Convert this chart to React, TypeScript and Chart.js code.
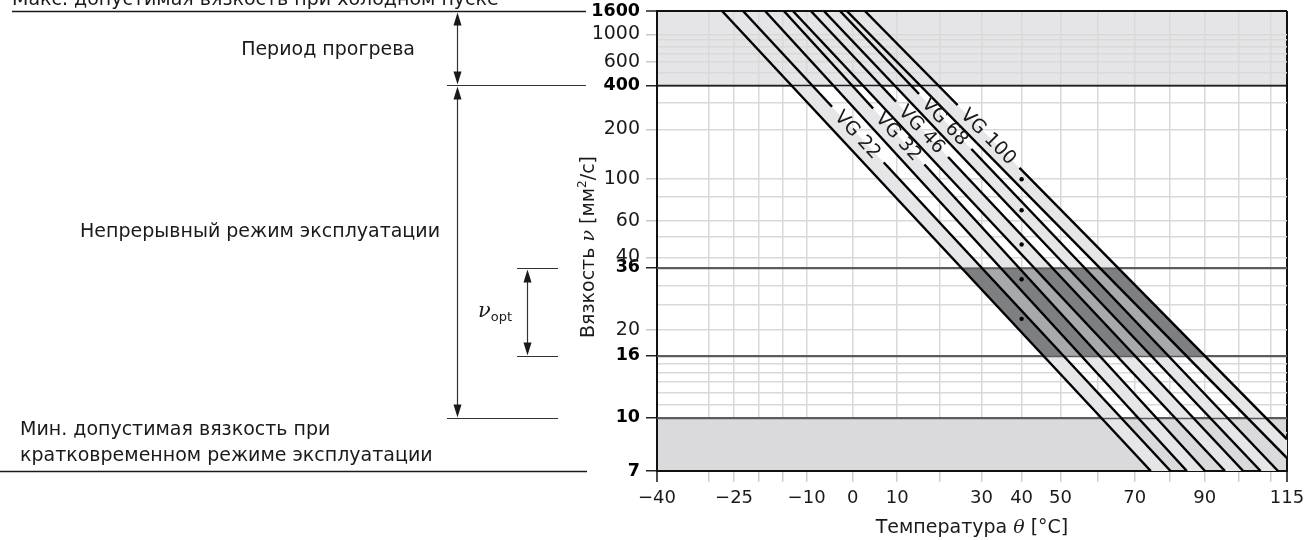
import React, { useEffect, useRef } from 'react';
import { Chart, Scale, registerables } from 'chart.js';

// ---------------- data ----------------
const GRADES = ['VG 22', 'VG 32', 'VG 46', 'VG 68', 'VG 100'];
const NOMINAL_T = 40; // °C
const NOMINAL_V = [22, 32, 46, 68, 100]; // mm²/s at 40 °C (dots)

// band edge lines of each grade: [temperature °C, viscosity mm²/s]
const VG22_MIN = [[-27.4, 1600], [74.5, 7]];
const VG22_MAX = [[-23.2, 1600], [80.1, 7]];
const VG32_MIN = [[-18.7, 1600], [84.8, 7]];
const VG32_MAX = [[-14.8, 1600], [90.1, 7]];
const VG46_MIN = [[-12.9, 1600], [96.0, 7]];
const VG46_MAX = [[-9.1, 1600], [101.5, 7]];
const VG68_MIN = [[-6.3, 1600], [106.8, 7]];
const VG68_MAX = [[-2.8, 1600], [112.2, 7]];
const VG100_MIN = [[-1.3, 1600], [115, 7.6]];
const VG100_MAX = [[2.7, 1600], [115, 8.6]];
// viscosity at which each grade label sits on its upper line
const LABEL_V = [185, 180, 200, 225, 180];

const X_MIN = -40;
const X_MAX = 115;
const X_GRID = [-40, -30, -25, -20, -15, -10, 0, 10, 20, 30, 40, 50, 60, 70, 80, 90, 100, 110, 115];
const X_LABELS = [-40, -25, -10, 0, 10, 30, 40, 50, 70, 90, 115];

const Y_MIN = 7;
const Y_MAX = 1600;
const Y_GRID = [7, 8, 9, 10, 11, 12, 13, 14, 15, 16, 20, 25, 30, 36, 40, 50, 60, 80, 100, 200, 300, 400, 500, 600, 700, 800, 900, 1000, 1600];
const Y_LABELS = [7, 10, 16, 20, 36, 40, 60, 100, 200, 400, 600, 1000, 1600];
const Y_BOLD = [7, 10, 16, 36, 400, 1600];

// zones
const WARMUP = [400, 1600];
const CONTINUOUS = [10, 400];
const OPTIMUM = [16, 36];
const SHORT_TERM = [7, 10];

const TXT_COLD = 'Макс. допустимая вязкость при холодном пуске';
const TXT_WARM = 'Период прогрева';
const TXT_CONT = 'Непрерывный режим эксплуатации';
const TXT_MIN1 = 'Мин. допустимая вязкость при';
const TXT_MIN2 = 'кратковременном режиме эксплуатации';

// ---------------- styles ----------------
const SANS = '"DejaVu Sans", "Liberation Sans", sans-serif';
const TEXT = '#1a1a1a';
const TOP_FILL = '#e5e5e7';
const BOTTOM_FILL = '#dadadc';
const BAND_FILL = '#e6e6e8';
const OPT_GAP = '#a8a9ad';
const OPT_BAND = '#7e7f83';
const GRID = '#d9d9d9';

// ---------------- custom scales (ASTM D341 chart) ----------------
function makeScale(scaleId: string, fwd: (v: number) => number, inv: (t: number) => number) {
  class TScale extends (Scale as any) {
    static id = scaleId;
    static defaults = {};
    determineDataLimits() {
      this.min = this.options.min;
      this.max = this.options.max;
    }
    buildTicks() {
      return [];
    }
    configure() {
      super.configure();
      this._s0 = fwd(this.min);
      this._sr = fwd(this.max) - this._s0;
    }
    getLabelForValue(v: number) {
      return String(v);
    }
    getPixelForValue(v: number) {
      return this.getPixelForDecimal((fwd(v) - this._s0) / this._sr);
    }
    getValueForPixel(p: number) {
      return inv(this.getDecimalForPixel(p) * this._sr + this._s0);
    }
  }
  return TScale;
}
const TempScale = makeScale('tempLog', (t) => Math.log10(t + 273.15), (u) => Math.pow(10, u) - 273.15);
const ViscScale = makeScale(
  'viscLogLog',
  (v) => Math.log10(Math.log10(v + 0.7)),
  (u) => Math.pow(10, Math.pow(10, u)) - 0.7
);

Chart.register(...registerables, TempScale as any, ViscScale as any);

const BANDS = [
  [VG22_MIN, VG22_MAX],
  [VG32_MIN, VG32_MAX],
  [VG46_MIN, VG46_MAX],
  [VG68_MIN, VG68_MAX],
  [VG100_MIN, VG100_MAX],
];

function px(chart: any, pts: number[][]) {
  const { x, y } = chart.scales;
  return pts.map(([t, v]) => [x.getPixelForValue(t), y.getPixelForValue(v)]);
}

function poly(ctx: CanvasRenderingContext2D, a: number[][], b: number[][]) {
  const all = a.concat(b.slice().reverse());
  ctx.beginPath();
  all.forEach(([X, Y], i) => (i ? ctx.lineTo(X, Y) : ctx.moveTo(X, Y)));
  ctx.closePath();
  ctx.fill();
}

function labelGeom(chart: any, g: number) {
  const p = px(chart, BANDS[g][1]);
  const py = chart.scales.y.getPixelForValue(LABEL_V[g]);
  const f = (py - p[0][1]) / (p[1][1] - p[0][1]);
  const pxx = p[0][0] + f * (p[1][0] - p[0][0]);
  const ang = Math.atan2(p[1][1] - p[0][1], p[1][0] - p[0][0]);
  return { x: pxx, y: py, ang };
}

const LABEL_FONT = `19px ${SANS}`;

function drawRich(ctx: CanvasRenderingContext2D, parts: [string, string, number][], x: number, y: number, align: string) {
  let w = 0;
  parts.forEach(([t, f]) => {
    ctx.font = f;
    w += ctx.measureText(t).width;
  });
  let cx = align === 'center' ? x - w / 2 : align === 'right' ? x - w : x;
  ctx.textAlign = 'left';
  ctx.textBaseline = 'alphabetic';
  parts.forEach(([t, f, dy]) => {
    ctx.font = f;
    ctx.fillText(t, cx, y + dy);
    cx += ctx.measureText(t).width;
  });
}

function arrowHead(ctx: CanvasRenderingContext2D, x: number, yTip: number, dir: number) {
  ctx.beginPath();
  ctx.moveTo(x, yTip);
  ctx.lineTo(x - 4, yTip + dir * 13);
  ctx.lineTo(x + 4, yTip + dir * 13);
  ctx.closePath();
  ctx.fill();
}

function dblArrow(ctx: CanvasRenderingContext2D, x: number, y1: number, y2: number) {
  ctx.beginPath();
  ctx.moveTo(x, y1 + 8);
  ctx.lineTo(x, y2 - 8);
  ctx.stroke();
  arrowHead(ctx, x, y1 + 1, 1);
  arrowHead(ctx, x, y2 - 1, -1);
}

function hline(ctx: CanvasRenderingContext2D, x1: number, x2: number, y: number) {
  ctx.beginPath();
  ctx.moveTo(x1, y);
  ctx.lineTo(x2, y);
  ctx.stroke();
}

// all area fills, painted after the grid and right before the first dataset
function paintFills(chart: any) {
  const { ctx, chartArea: a } = chart;
  const y = chart.scales.y;
  const y400 = y.getPixelForValue(WARMUP[0]);
  ctx.save();
  ctx.beginPath();
  ctx.rect(a.left, y400, a.right - a.left, a.bottom - y400);
  ctx.clip();
  ctx.fillStyle = BAND_FILL;
  BANDS.forEach(([lo, hi]) => poly(ctx, px(chart, lo), px(chart, hi)));
  ctx.restore();

  const yo1 = y.getPixelForValue(OPTIMUM[1]);
  const yo0 = y.getPixelForValue(OPTIMUM[0]);
  ctx.save();
  ctx.beginPath();
  ctx.rect(a.left, yo1, a.right - a.left, yo0 - yo1);
  ctx.clip();
  ctx.fillStyle = OPT_GAP;
  poly(ctx, px(chart, BANDS[0][0]), px(chart, BANDS[BANDS.length - 1][1]));
  ctx.fillStyle = OPT_BAND;
  BANDS.forEach(([lo, hi]) => poly(ctx, px(chart, lo), px(chart, hi)));
  ctx.restore();

  ctx.save();
  ctx.lineWidth = 1.5;
  [
    [WARMUP[0], '#1e1e1e'],
    [OPTIMUM[1], '#5c5c5c'],
    [OPTIMUM[0], '#5c5c5c'],
    [SHORT_TERM[1], '#5c5c5c'],
  ].forEach(([v, c]: any) => {
    ctx.strokeStyle = c;
    hline(ctx, a.left, a.right, Math.round(y.getPixelForValue(v)) + 0.5);
  });
  ctx.restore();
}

let fillsDone = false;

const annot = {
  id: 'annot',
  beforeDraw(chart: any) {
    fillsDone = false;
    const { ctx, chartArea: a } = chart;
    const y = chart.scales.y;
    ctx.save();
    ctx.fillStyle = '#fff';
    ctx.fillRect(0, 0, chart.width, chart.height);
    const yt1 = y.getPixelForValue(WARMUP[1]);
    const yt0 = y.getPixelForValue(WARMUP[0]);
    ctx.fillStyle = TOP_FILL;
    ctx.fillRect(a.left, yt1, a.right - a.left, yt0 - yt1);
    const yb1 = y.getPixelForValue(SHORT_TERM[1]);
    const yb0 = y.getPixelForValue(SHORT_TERM[0]);
    ctx.fillStyle = BOTTOM_FILL;
    ctx.fillRect(a.left, yb1, a.right - a.left, yb0 - yb1);
    ctx.restore();
  },
  beforeDatasetsDraw(chart: any) {
    if (!fillsDone) {
      paintFills(chart);
      fillsDone = true;
    }
  },
  beforeDatasetDraw(chart: any, args: any) {
    if (!fillsDone) {
      paintFills(chart);
      fillsDone = true;
    }
    const i = args.index;
    if (i >= 10 || i % 2 === 0) return;
    const g = (i - 1) / 2;
    const { ctx } = chart;
    const L = labelGeom(chart, g);
    ctx.save();
    ctx.font = LABEL_FONT;
    const hl = ctx.measureText(GRADES[g]).width / 2 + 9;
    const hw = 14;
    const c = Math.cos(L.ang);
    const s = Math.sin(L.ang);
    const pt = (u: number, v: number) => [L.x + u * c - v * s, L.y + u * s + v * c];
    ctx.beginPath();
    ctx.rect(0, 0, chart.width, chart.height);
    const q = [pt(-hl, -hw), pt(hl, -hw), pt(hl, hw), pt(-hl, hw)];
    ctx.moveTo(q[0][0], q[0][1]);
    q.slice(1).forEach(([X, Y]) => ctx.lineTo(X, Y));
    ctx.closePath();
    ctx.clip('evenodd');
  },
  afterDatasetDraw(chart: any, args: any) {
    const i = args.index;
    if (i >= 10 || i % 2 === 0) return;
    chart.ctx.restore();
  },
  afterDatasetsDraw(chart: any) {
    const { ctx } = chart;
    GRADES.forEach((name, g) => {
      const L = labelGeom(chart, g);
      ctx.save();
      ctx.translate(L.x, L.y);
      ctx.rotate(L.ang);
      ctx.font = LABEL_FONT;
      ctx.fillStyle = TEXT;
      ctx.textAlign = 'center';
      ctx.textBaseline = 'middle';
      ctx.fillText(name, 0, 1);
      ctx.restore();
    });
  },
  afterDraw(chart: any) {
    const { ctx, chartArea: a } = chart;
    const y = chart.scales.y;
    const y1600 = Math.round(y.getPixelForValue(WARMUP[1])) + 0.5;
    const y400 = Math.round(y.getPixelForValue(WARMUP[0])) + 0.5;
    const y36 = Math.round(y.getPixelForValue(OPTIMUM[1])) + 0.5;
    const y16 = Math.round(y.getPixelForValue(OPTIMUM[0])) + 0.5;
    const y10 = Math.round(y.getPixelForValue(CONTINUOUS[0])) + 0.5;
    const y7 = Math.round(y.getPixelForValue(SHORT_TERM[0])) + 0.5;
    ctx.save();
    ctx.strokeStyle = '#1a1a1a';
    ctx.fillStyle = '#1a1a1a';
    ctx.lineWidth = 1.5;
    hline(ctx, 12, 586, y1600);
    hline(ctx, 0, 587, y7);
    ctx.lineWidth = 1;
    ctx.strokeStyle = '#333';
    hline(ctx, 447, 586, y400);
    hline(ctx, 447, 558, y10);
    hline(ctx, 517, 558, y36);
    hline(ctx, 517, 558, y16);
    ctx.lineWidth = 1.2;
    dblArrow(ctx, 457.5, y1600, y400);
    dblArrow(ctx, 457.5, y400, y10);
    dblArrow(ctx, 527.5, y36, y16);

    ctx.fillStyle = TEXT;
    const F = `19px ${SANS}`;
    drawRich(ctx, [[TXT_COLD, F, 0]], 12, y1600 - 7, 'left');
    drawRich(ctx, [[TXT_WARM, F, 0]], 415, (y1600 + y400) / 2 + 6, 'right');
    drawRich(ctx, [[TXT_CONT, F, 0]], 440, 237, 'right');
    drawRich(ctx, [[TXT_MIN1, F, 0]], 20, y10 + 16, 'left');
    drawRich(ctx, [[TXT_MIN2, F, 0]], 20, y10 + 42, 'left');
    drawRich(
      ctx,
      [
        ['ν', 'italic 21px "DejaVu Serif", serif', 0],
        ['opt', `13px ${SANS}`, 4],
      ],
      495,
      (y36 + y16) / 2 + 4,
      'center'
    );

    const cx = (a.left + a.right) / 2;
    drawRich(
      ctx,
      [
        ['Температура ', F, 0],
        ['θ', 'italic 19px "DejaVu Serif", serif', 0],
        [' [°C]', F, 0],
      ],
      cx,
      533,
      'center'
    );
    ctx.translate(594, (a.top + a.bottom) / 2 + 6);
    ctx.rotate(-Math.PI / 2);
    drawRich(
      ctx,
      [
        ['Вязкость ', F, 0],
        ['ν', 'italic 19px "DejaVu Serif", serif', 0],
        [' [мм', F, 0],
        ['2', `12px ${SANS}`, -8],
        ['/с]', F, 0],
      ],
      0,
      0,
      'center'
    );
    ctx.restore();
  },
};

const fmtX = (v: number) => (v < 0 ? '\u2212' + Math.abs(v) : String(v));

export default function App() {
  const ref = useRef<HTMLCanvasElement>(null);
  useEffect(() => {
    const datasets: any[] = [];
    BANDS.forEach((pair) => {
      pair.forEach((pts) => {
        datasets.push({
          type: 'line',
          data: pts.map(([t, v]) => ({ x: t, y: v })),
          borderColor: '#000',
          borderWidth: 2.4,
          pointRadius: 0,
          fill: false,
          tension: 0,
        });
      });
    });
    datasets.push({
      type: 'scatter',
      data: NOMINAL_V.map((v) => ({ x: NOMINAL_T, y: v })),
      pointRadius: 2.2,
      pointBackgroundColor: '#000',
      pointBorderWidth: 0,
      showLine: false,
    });

    const chart = new Chart(ref.current as HTMLCanvasElement, {
      type: 'line',
      data: { datasets },
      options: {
        animation: false,
        responsive: true,
        maintainAspectRatio: false,
        events: [],
        layout: { autoPadding: false, padding: { left: 0, right: 24, top: 11, bottom: 0 } },
        plugins: { legend: { display: false }, tooltip: { enabled: false } },
        scales: {
          x: {
            type: 'tempLog',
            position: 'bottom',
            min: X_MIN,
            max: X_MAX,
            afterBuildTicks: (s: any) => {
              s.ticks = X_GRID.map((v) => ({ value: v }));
            },
            afterFit: (s: any) => {
              s.height = 69;
              s.paddingLeft = 0;
              s.paddingRight = 0;
              s.paddingTop = 0;
              s.paddingBottom = 0;
            },
            grid: {
              color: (c: any) => (c.tick && (c.tick.value === X_MIN || c.tick.value === X_MAX) ? '#111' : GRID),
              lineWidth: (c: any) => (c.tick && (c.tick.value === X_MIN || c.tick.value === X_MAX) ? 2 : 1.5),
              tickLength: 11,
              tickColor: (c: any) => (c.tick && (c.tick.value === X_MIN || c.tick.value === X_MAX) ? '#111' : '#cfcfcf'),
              tickWidth: 1.5,
            },
            border: { display: true, color: '#111', width: 2 },
            ticks: {
              autoSkip: false,
              maxRotation: 0,
              minRotation: 0,
              padding: 6,
              color: TEXT,
              font: { family: SANS, size: 18 },
              callback: (v: any) => (X_LABELS.includes(v) ? fmtX(v) : ''),
            },
          },
          y: {
            type: 'viscLogLog',
            position: 'left',
            min: Y_MIN,
            max: Y_MAX,
            afterBuildTicks: (s: any) => {
              s.ticks = Y_GRID.map((v) => ({ value: v }));
            },
            afterFit: (s: any) => {
              s.width = 657;
              s.paddingLeft = 0;
              s.paddingRight = 0;
              s.paddingTop = 0;
              s.paddingBottom = 0;
            },
            grid: {
              color: (c: any) => {
                const v = c.tick && c.tick.value;
                if (v === Y_MAX) return '#111';
                if (v === 400) return '#1e1e1e';
                if (Y_BOLD.includes(v)) return '#5c5c5c';
                return GRID;
              },
              lineWidth: (c: any) => (c.tick && c.tick.value === Y_MAX ? 2 : 1.5),
              tickLength: 11,
              tickColor: (c: any) => {
                const v = c.tick && c.tick.value;
                if (!Y_LABELS.includes(v)) return 'rgba(0,0,0,0)';
                return Y_BOLD.includes(v) ? '#222' : '#c8c8c8';
              },
              tickWidth: 1.5,
            },
            border: { display: true, color: '#111', width: 2 },
            ticks: {
              autoSkip: false,
              padding: 6,
              color: (c: any) => (c.tick && Y_BOLD.includes(c.tick.value) ? '#000' : TEXT),
              font: (c: any) => {
                const b = c.tick && Y_BOLD.includes(c.tick.value);
                return { family: SANS, size: b ? 17.5 : 19, weight: b ? 'bold' : 'normal' };
              },
              callback: (v: any) => (Y_LABELS.includes(v) ? String(v) : ''),
            },
          },
        },
      } as any,
      plugins: [annot as any],
    });
    return () => chart.destroy();
  }, []);

  return (
    <div style={{ position: 'absolute', left: 0, top: 0, width: 1311, height: 540, background: '#fff' }}>
      <canvas ref={ref} />
    </div>
  );
}
